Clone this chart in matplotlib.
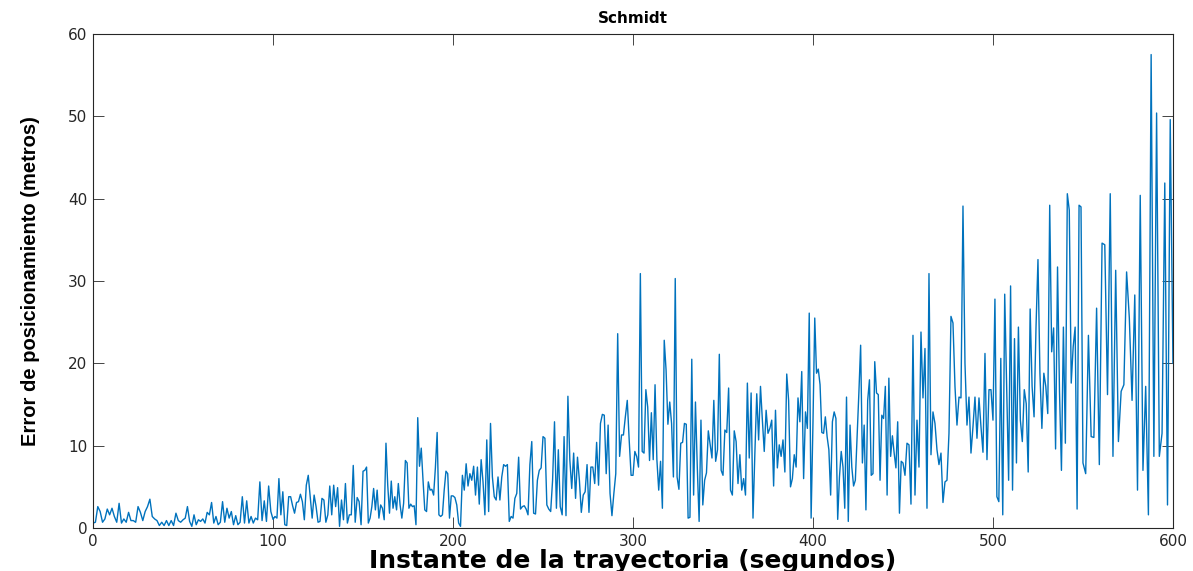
import numpy as np
import matplotlib.pyplot as plt

# positioning error (metres) in 50 s blocks
err_000 = [0.6, 0.7, 2.6, 2.0, 0.7, 1.1, 2.3, 1.6, 2.4, 1.4, 0.7, 3.0, 0.6, 1.1, 0.7, 1.9,
           0.9, 0.9, 0.7, 2.6, 1.9, 0.9, 2.0, 2.6, 3.5, 1.4, 1.1, 0.9, 0.3, 0.7, 0.3, 0.9,
           0.3, 0.9, 0.3, 1.8, 0.9, 0.7]
err_050 = [1.0, 1.2, 2.6, 0.8, 0.2, 1.6, 0.4, 1.0, 0.8, 1.1, 0.6, 1.9, 1.6, 3.1, 0.6, 1.4,
           0.4, 0.7, 3.2, 0.7, 2.4, 1.2, 2.0, 0.4, 1.5, 0.4, 0.7, 3.8, 0.6, 3.3, 0.6, 1.4,
           0.6, 1.2, 1.0, 5.6, 0.9, 3.3, 0.8, 5.1, 2.0]
err_100 = [1.05, 1.4, 1.2, 6.0, 1.6, 4.4, 0.4, 0.3, 3.8, 3.8, 2.7, 1.8, 3.1, 3.2, 4.1, 3.2,
           1.0, 5.2, 6.4, 3.8, 1.2, 4.0, 2.6, 0.7, 0.8, 3.6, 3.4, 0.7, 1.6, 5.1, 1.6, 5.2,
           2.6, 4.9, 0.2, 3.4, 1.0, 5.4, 0.6, 1.6, 1.6, 7.6, 0.7, 3.7, 3.2, 0.4]
err_150 = [6.9, 7.0, 7.4, 0.6, 1.2, 2.6, 4.8, 2.2, 4.6, 1.2, 2.8, 2.4, 1.0, 10.3, 5.2, 1.8,
           5.7, 2.4, 3.8, 2.2, 5.4, 2.8, 1.2, 3.0, 8.2, 7.9, 2.4, 2.9, 2.6, 2.7, 0.4, 13.4,
           7.5, 9.7, 5.8, 2.2, 2.0, 5.6, 4.6, 4.7, 4.0, 7.3, 11.6, 1.6, 1.4, 1.6, 4.6, 6.9,
           6.6, 1.2, 3.9]
err_200 = [3.9, 3.7, 2.8, 0.6, 0.2, 6.4, 4.6, 7.8, 5.1, 6.6, 5.8, 7.5, 4.0, 7.4, 2.9, 8.3,
           5.6, 1.6, 10.7, 2.0, 12.7, 6.2, 3.8, 3.4, 6.2, 3.4, 6.2, 7.7, 7.5, 7.7, 0.8, 1.4,
           1.2, 3.6, 4.2, 8.6, 2.3, 2.6, 2.7, 2.3, 1.6, 7.7, 10.5, 1.8, 1.7, 5.8, 7.0, 7.3]
err_250 = [11.1, 10.9, 2.8, 2.3, 2.0, 5.8, 12.9, 2.4, 9.5, 2.6, 1.6, 11.1, 1.5, 16.0, 8.3,
           4.8, 9.1, 3.6, 8.6, 5.8, 1.9, 4.0, 4.4, 7.7, 1.9, 7.4, 7.4, 5.4, 10.4, 5.2, 12.7,
           13.8, 13.7, 6.6, 12.5, 4.2, 1.5, 4.2, 6.6, 23.6, 8.7, 11.3, 11.3, 13.5, 15.5,
           10.7, 6.4]
err_300 = [6.4, 9.3, 8.7, 7.4, 30.9, 9.3, 9.1, 16.8, 14.7, 8.2, 14.0, 8.3, 17.4, 8.3, 4.6,
           8.1, 2.4, 22.8, 19.2, 12.6, 15.3, 12.7, 6.2, 30.3, 6.2, 4.7, 10.3, 10.4, 12.7,
           12.6, 1.2, 1.3, 20.5, 4.0, 15.3, 7.4, 0.8, 13.1, 2.8, 5.8, 6.7, 11.8, 10.1, 8.5,
           15.5, 8.1, 9.5, 21.1, 7.0]
err_350 = [6.4, 11.9, 11.6, 17.0, 4.6, 4.0, 11.8, 10.5, 5.4, 8.9, 4.6, 6.0, 4.0, 17.6, 8.5,
           16.4, 1.2, 9.1, 16.3, 10.7, 17.2, 13.1, 9.3, 14.3, 11.5, 12.1, 13.1, 5.1, 14.3,
           7.3, 10.1, 8.7, 10.7, 6.8, 18.7, 15.5, 5.0, 6.0, 8.9, 7.4, 15.8, 12.9, 19.0, 6.0,
           14.1, 12.1, 26.1, 1.2]
err_400 = [12.9, 25.5, 18.8, 19.3, 17.4, 11.6, 11.5, 13.5, 11.1, 9.5, 4.0, 12.9, 14.1, 13.3,
           1.05, 6.2, 9.3, 7.4, 2.4, 15.9, 0.8, 12.5, 7.4, 5.1, 5.8, 11.1, 16.4, 22.2, 7.9,
           12.5, 2.2, 15.5, 18.0, 6.4, 6.6, 20.2, 16.4, 16.2, 5.8, 13.7, 13.3, 17.2, 4.0,
           18.2, 8.7, 11.2, 9.1, 7.3, 12.9, 1.8, 8.1]
err_450 = [7.9, 6.4, 10.3, 10.1, 2.9, 23.4, 4.0, 13.1, 7.4, 23.8, 15.8, 21.8, 2.4, 30.9,
           8.9, 14.1, 12.7, 9.5, 7.7, 9.1, 3.1, 5.6, 5.8, 11.5, 25.7, 24.9, 17.2, 12.5, 15.9,
           15.8, 39.1, 20.0, 12.5, 15.9, 9.1, 12.3, 15.9, 10.9, 15.8, 12.3, 9.2, 21.2, 8.3,
           16.8, 16.8]
err_500 = [13.1, 27.8, 3.8, 3.2, 20.6, 1.6, 28.4, 17.2, 5.8, 29.4, 4.6, 23.0, 7.9, 24.4,
           13.1, 10.5, 16.8, 15.1, 6.8, 26.6, 17.2, 13.5, 24.4, 32.6, 18.8, 12.1, 18.8, 17.2,
           13.9, 39.2, 21.4, 24.3, 9.6, 31.7, 16.6, 7.0, 24.4, 10.3, 40.6, 38.6, 17.6, 22.0,
           24.4, 2.3, 39.2, 39.0]
err_550 = [7.9, 6.6, 23.4, 11.1, 11.0, 26.7, 7.7, 34.6, 34.4, 16.2, 40.6, 8.7, 31.3, 10.5,
           16.6, 17.4, 31.1, 25.5, 15.5, 28.3, 4.6, 40.4, 7.0, 17.2, 1.6, 57.5, 8.7, 50.4,
           8.7, 11.5, 41.9, 2.8, 49.6, 20.0]

blocks = [err_000, err_050, err_100, err_150, err_200, err_250,
          err_300, err_350, err_400, err_450, err_500, err_550]
block_start = [0, 50, 100, 150, 200, 250, 300, 350, 400, 450, 500, 550]
block_len = 50

x_ticks = [0, 100, 200, 300, 400, 500, 600]
y_ticks = [0, 10, 20, 30, 40, 50, 60]

t = []
for i, (start, vals) in enumerate(zip(block_start, blocks)):
    last = i == len(blocks) - 1
    t.append(np.linspace(start, start + block_len, len(vals), endpoint=last))
t = np.concatenate(t)
err = np.concatenate(blocks)

plt.rcParams['font.family'] = ['DejaVu Sans']

fig = plt.figure(figsize=(11.93, 5.71), dpi=100)
ax = fig.add_axes([0.078, 0.0753, 0.9052, 0.8652])

ax.plot(t, err, color='#0072BD', linewidth=1.0)

ax.set_xlim(0, 600)
ax.set_ylim(0, 60)
ax.set_xticks(x_ticks)
ax.set_yticks(y_ticks)
ax.tick_params(direction='in', length=8, width=0.6, colors='#262626',
               labelsize=11, top=True, right=True, pad=4)
for s in ax.spines.values():
    s.set_color('#262626')
    s.set_linewidth(0.8)

ax.set_title('Schmidt', fontsize=11, fontweight='bold', pad=8)
ax.set_xlabel('Instante de la trayectoria (segundos)', fontsize=18, fontweight='bold')
ax.xaxis.set_label_coords(0.5, -0.043)
ax.set_ylabel('Error de posicionamiento (metros)', fontsize=14.5, fontweight='bold',
              family=['Liberation Sans', 'DejaVu Sans'])
ax.yaxis.set_label_coords(-0.049, 0.5)

fig.savefig('out.png', dpi=100)
